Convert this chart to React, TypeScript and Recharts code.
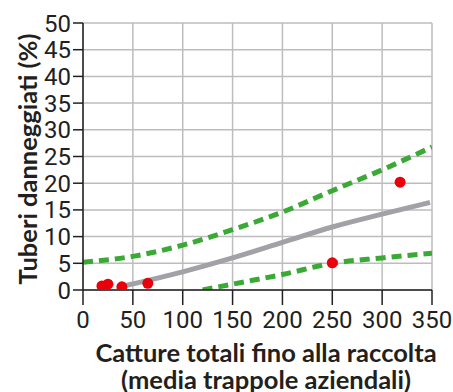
import React from "react";
import {
  ComposedChart,
  Line,
  Scatter,
  XAxis,
  YAxis,
  CartesianGrid,
  Label,
} from "recharts";

// osservazioni aziendali
const catture = [19, 25, 39, 65, 250, 318];
const danni = [0.75, 1.1, 0.6, 1.25, 5.1, 20.2];

// retta di regressione (grigia)
const regX = [42, 100, 150, 200, 250, 300, 348];
const regY = [0.8, 3.4, 6.0, 8.9, 11.8, 14.2, 16.4];

// limite superiore (verde tratteggiato)
const supX = [0, 50, 100, 150, 200, 250, 300, 350];
const supY = [5.2, 6.3, 8.4, 11.3, 14.6, 18.6, 22.5, 26.8];

// limite inferiore (verde tratteggiato)
const infX = [120, 150, 200, 250, 300, 350];
const infY = [0, 1.1, 2.9, 5.0, 6.0, 6.9];

const xTicks = [0, 50, 100, 150, 200, 250, 300, 350];
const yTicks = [0, 5, 10, 15, 20, 25, 30, 35, 40, 45, 50];

const punti = catture.map((x, i) => ({ x, y: danni[i] }));
const regressione = regX.map((x, i) => ({ x, y: regY[i] }));
const superiore = supX.map((x, i) => ({ x, y: supY[i] }));
const inferiore = infX.map((x, i) => ({ x, y: infY[i] }));

const INK = "#231f20";
const tickFont = { fill: INK, fontSize: 24, fontFamily: "Roboto" };

export default function App() {
  return (
    <div style={{ position: "absolute", left: 0, top: 0, width: 453, height: 392, background: "#fff" }}>
      <ComposedChart
        width={453}
        height={392}
        margin={{ top: 23, right: 21, left: 0, bottom: 0 }}
      >
        <CartesianGrid stroke="#bdbdbd" strokeWidth={1.5} />
        <XAxis
          type="number"
          dataKey="x"
          domain={[0, 350]}
          ticks={xTicks}
          interval={0}
          allowDataOverflow
          height={102}
          stroke={INK}
          strokeWidth={1.5}
          tickSize={15}
          tickMargin={6}
          tick={tickFont}
        >
          <Label
            content={() => (
              <text
                x={266}
                textAnchor="middle"
                fill={INK}
                fontFamily="Lato"
                fontWeight={700}
                fontSize={25.5}
              >
                <tspan x={266} y={362}>Catture totali fino alla raccolta</tspan>
                <tspan x={266} y={389}>(media trappole aziendali)</tspan>
              </text>
            )}
          />
        </XAxis>
        <YAxis
          type="number"
          dataKey="y"
          domain={[0, 50]}
          ticks={yTicks}
          interval={0}
          allowDataOverflow
          width={83}
          stroke={INK}
          strokeWidth={1.5}
          tickSize={10}
          tickMargin={2}
          tick={tickFont}
        >
          <Label
            content={() => (
              <text
                x={27}
                y={159}
                transform="rotate(-90 27 159)"
                textAnchor="middle"
                dominantBaseline="central"
                fill={INK}
                fontFamily="Lato"
                fontWeight={700}
                fontSize={25.5}
              >
                Tuberi danneggiati (%)
              </text>
            )}
          />
        </YAxis>
        <Line
          data={superiore}
          dataKey="y"
          type="monotone"
          stroke="#3aa935"
          strokeWidth={5}
          strokeDasharray="10 6"
          dot={false}
          isAnimationActive={false}
        />
        <Line
          data={inferiore}
          dataKey="y"
          type="monotone"
          stroke="#3aa935"
          strokeWidth={5}
          strokeDasharray="10 6"
          dot={false}
          isAnimationActive={false}
        />
        <Line
          data={regressione}
          dataKey="y"
          type="monotone"
          stroke="#a2a1a6"
          strokeWidth={5}
          dot={false}
          isAnimationActive={false}
        />
        <Scatter
          data={punti}
          dataKey="y"
          fill="#e8000b"
          shape={(p: any) => <circle cx={p.cx} cy={p.cy} r={5.5} fill="#e8000b" />}
          isAnimationActive={false}
        />
      </ComposedChart>
    </div>
  );
}
